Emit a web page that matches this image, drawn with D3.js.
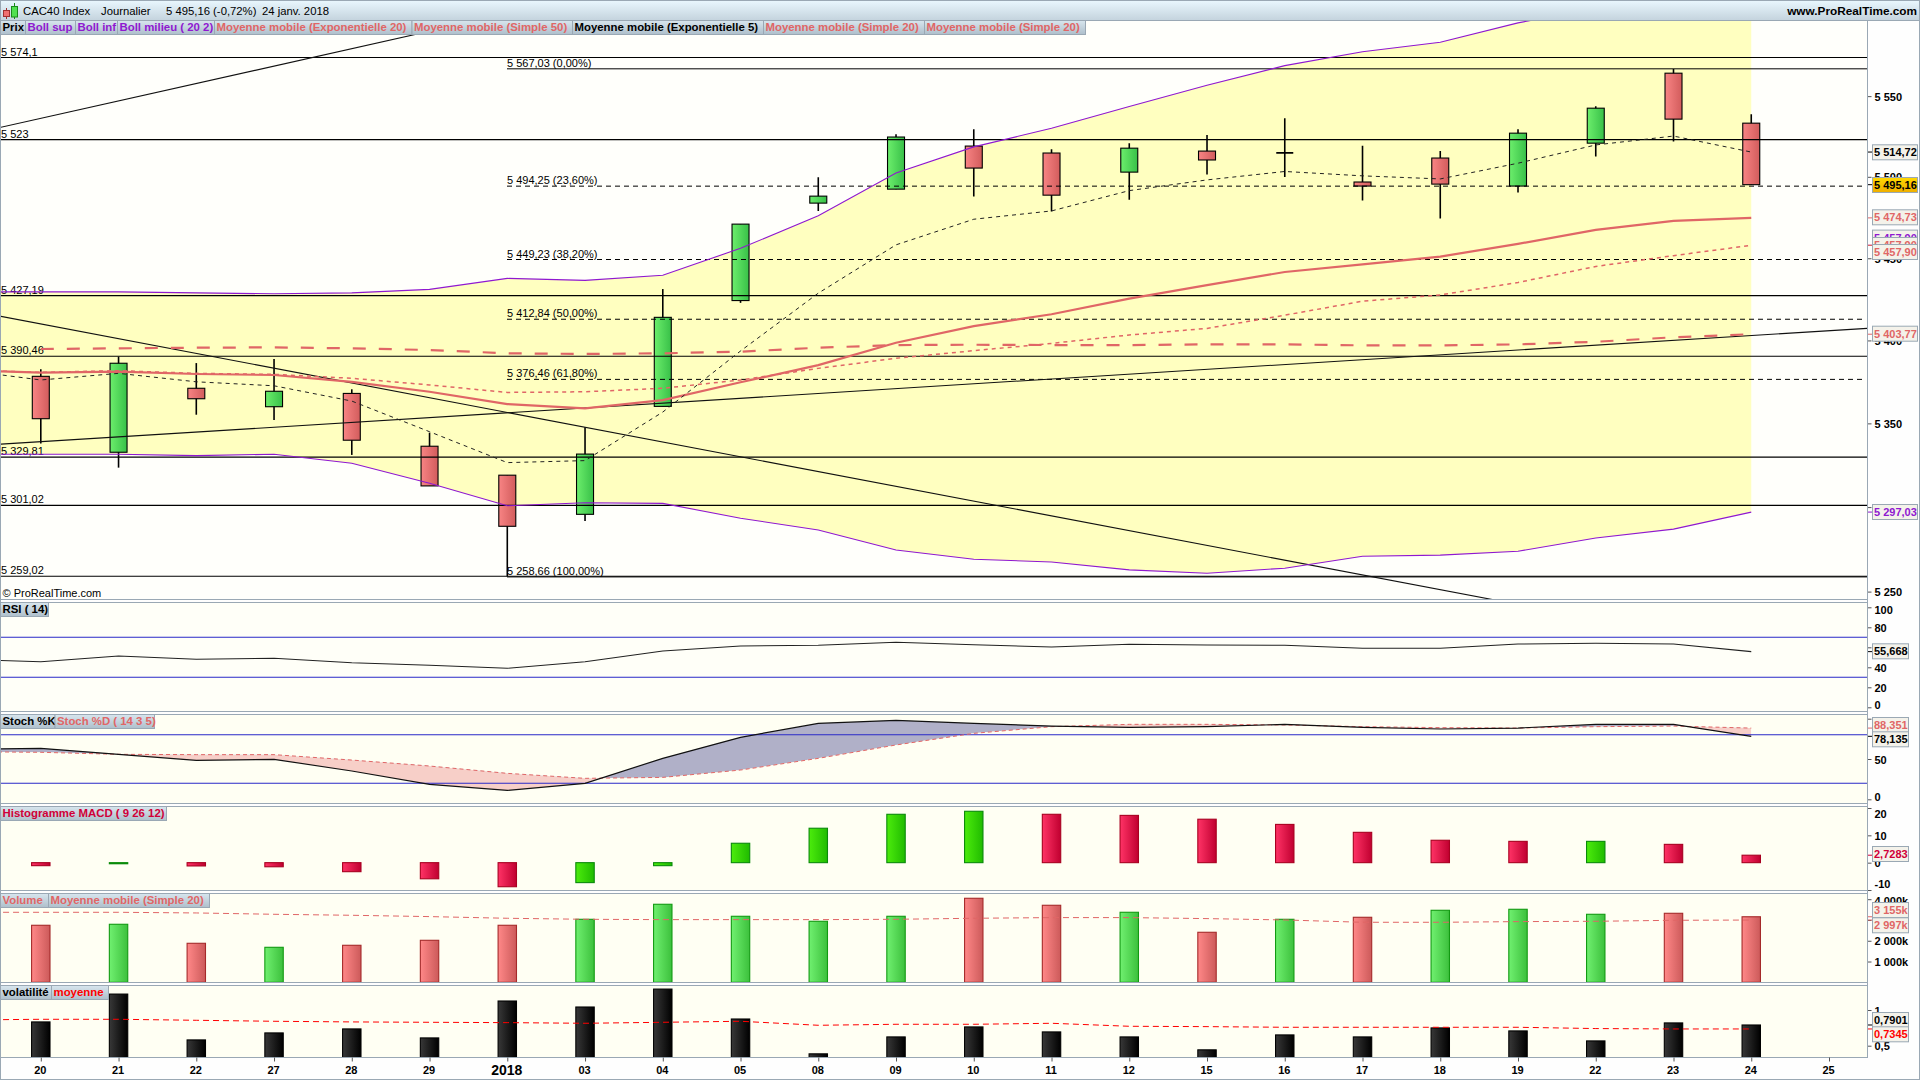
<!DOCTYPE html>
<html>
<head>
<meta charset="utf-8">
<script src="https://d3js.org/d3.v7.min.js"></script>
<style>
  body { margin: 0; background: #fff; }
  svg { display: block; }
  text { font-family: "Liberation Sans", Arial, sans-serif; font-size: 11px; fill: #000; }
  .bold { font-weight: bold; }
</style>
</head>
<body>
<svg id="chart" width="1920" height="1080"></svg>
<script>
// x axis labels, 25 is the empty day after the last candle
const categories = ["20", "21", "22", "27", "28", "29", "2018", "03", "04", "05", "08", "09", "10", "11", "12", "15", "16", "17", "18", "19", "22", "23", "24", "25"];

// candles
const opens = [5378.3, 5332.7, 5371.1, 5360, 5368, 5336.3, 5319, 5295.7, 5360.2, 5424.2, 5483.8, 5492.4, 5519, 5514.7, 5502.9, 5515.9, 5514.1, 5496.8, 5511.6, 5494.3, 5520.8, 5564.3, 5533.2];
const closes = [5352.8, 5386.2, 5364.8, 5369.3, 5339.9, 5312.6, 5288.6, 5331.6, 5414, 5470.9, 5488.1, 5524.6, 5505.4, 5488.7, 5517.7, 5510.4, 5514.8, 5494.3, 5495.5, 5527, 5542.5, 5535.7, 5495.16];
const highs = [5382.5, 5390.2, 5386.3, 5388.8, 5370.5, 5344.4, 5319, 5347.7, 5431.2, 5470.9, 5499.8, 5526.4, 5529.5, 5517.1, 5520.8, 5525.8, 5536.3, 5519.2, 5515.9, 5529.5, 5543.7, 5566.9, 5538.8];
const lows = [5337.9, 5323.5, 5355.2, 5352, 5331.1, 5312.6, 5259, 5291.8, 5360.2, 5422.8, 5479, 5492.4, 5487.8, 5478.6, 5485.8, 5501.4, 5499.9, 5485.4, 5474.3, 5490.3, 5512.6, 5521.8, 5495.16];

// indicators: first value is the day before the first candle (off the left edge)
const bollUp = [5429.5, 5429.5, 5429.5, 5428.9, 5428.3, 5428.9, 5431, 5437.7, 5436.5, 5439.6, 5456.1, 5476, 5502.3, 5518.5, 5530, 5543.5, 5556.8, 5569, 5577.7, 5583.6, 5595.8, 5605, 5613, 5618.8];
const bollDown = [5331.5, 5331.5, 5331.5, 5330.7, 5331.5, 5326.1, 5314.2, 5300.8, 5302.6, 5302.2, 5293.4, 5286.4, 5274.6, 5269.1, 5267.5, 5262.8, 5260.8, 5263.8, 5270.9, 5271.5, 5273.8, 5281.7, 5286.9, 5297.03];
const ema20 = [5382.1, 5380.5, 5381.1, 5379.7, 5379.1, 5375, 5369, 5361.6, 5359, 5364, 5374.7, 5385.1, 5398.6, 5408.7, 5415.9, 5425.4, 5433.6, 5441.6, 5446.3, 5451, 5458.8, 5467.4, 5472.9, 5474.73];
const sma50 = [null, 5394.8, 5395.2, 5395.6, 5395.8, 5395.2, 5394.2, 5392.2, 5391.8, 5392.2, 5393.2, 5395.6, 5397.2, 5397.4, 5397.2, 5397.2, 5397.6, 5397.6, 5397, 5397, 5397.6, 5399.2, 5401.9, 5403.77];
const sma20 = [5382.1, 5380.7, 5381.7, 5380.1, 5379.5, 5377.1, 5373.1, 5368.6, 5369, 5371.1, 5376.1, 5383.1, 5389.2, 5393.8, 5398.2, 5403.3, 5407.3, 5415.3, 5423.8, 5427.6, 5435.2, 5445, 5451.6, 5457.9];
const ema5 = [5382.1, 5376.1, 5380.1, 5375, 5372.6, 5363.4, 5345, 5326.5, 5327.7, 5356.8, 5393.6, 5428.7, 5458.2, 5473.9, 5479, 5491.5, 5498.1, 5503.3, 5500.6, 5498.7, 5508.4, 5519.7, 5525.2, 5515.3];

// levels drawn by hand on the chart
const supports = [5574.1, 5523, 5427.19, 5390.46, 5329.81, 5301.02, 5259.02];
const supportLabels = ["5 574,1", "5 523", "5 427,19", "5 390,46", "5 329,81", "5 301,02", "5 259,02"];
const fiboValues = [5567.03, 5494.25, 5449.23, 5412.84, 5376.46, 5258.66];
const fiboLabels = ["5 567,03 (0,00%)", "5 494,25 (23,60%)", "5 449,23 (38,20%)", "5 412,84 (50,00%)", "5 376,46 (61,80%)", "5 258,66 (100,00%)"];
const fiboDashed = [false, true, true, true, true, false];
// trend lines: [start index, start price, end index, end price]
const trendLines = [
  [-0.525, 5530.5, 5.5, 5596],
  [-0.525, 5414.7, 19.03, 5242.2],
  [-0.525, 5337.5, 23.49, 5407.3]
];

const rsi = [48, 45.6, 51.3, 48, 49, 44.6, 42, 39, 45.6, 56.3, 61.3, 62, 65, 62.6, 60.3, 63, 62.3, 62, 59, 59, 63.3, 64, 63.3, 55.668];
const stochK = [62, 63.2, 55.8, 48.3, 49.6, 35.1, 18.6, 11.1, 19.8, 50.8, 76.9, 94.2, 98, 94.2, 90.9, 89.3, 90.1, 93, 89.3, 87.2, 88.4, 93, 93, 78.135];
const stochD = [59.1, 58.3, 55.8, 55.4, 55.4, 48.7, 41.3, 32.2, 26, 27.2, 36.3, 50.8, 67.4, 81.8, 90.1, 93, 93, 92.2, 90.1, 88.9, 88.4, 90.1, 90.9, 88.351];

const macd = [-1.1, -0.4, -1.2, -1.5, -3.3, -5.9, -8.8, -7.3, -1.1, 7.1, 12.6, 17.7, 18.8, 17.7, 17.3, 15.9, 14, 11.1, 8.2, 7.8, 7.8, 6.7, 2.7283];
const macdDir = ["d", "u", "d", "d", "d", "d", "d", "u", "u", "u", "u", "u", "u", "d", "d", "d", "d", "d", "d", "d", "u", "d", "d"];

const volume = [2745, 2793, 1878, 1685, 1782, 2022, 2745, 3033, 3756, 3178, 2937, 3178, 4045, 3708, 3371, 2408, 3033, 3130, 3467, 3515, 3274, 3322, 3155];
const volumeDir = ["d", "u", "d", "u", "d", "d", "d", "u", "u", "u", "u", "u", "d", "d", "u", "d", "u", "d", "u", "u", "u", "d", "d"];
const volumeAvg = [3370, 3370, 3370, 3338, 3274, 3226, 3162, 3082, 3033, 3017, 3017, 3017, 3033, 3082, 3114, 3114, 3066, 3001, 2889, 2889, 2921, 2937, 2985, 2997];

const volat = [0.833, 1.223, 0.581, 0.679, 0.735, 0.609, 1.126, 1.042, 1.293, 0.874, 0.386, 0.623, 0.763, 0.693, 0.623, 0.442, 0.651, 0.623, 0.749, 0.707, 0.567, 0.819, 0.7901];
const volatAvg = [0.86, 0.87, 0.87, 0.856, 0.842, 0.833, 0.828, 0.823, 0.814, 0.828, 0.842, 0.786, 0.8, 0.8, 0.814, 0.772, 0.767, 0.758, 0.758, 0.758, 0.758, 0.74, 0.7345, 0.7345];

const priceTicks = [5550, 5500, 5450, 5400, 5350, 5300, 5250];
const rsiTicks = [100, 80, 60, 40, 20, 0];
const stochTicks = [100, 50, 0];
const macdTicks = [20, 10, 0, -10];
const volumeTicks = [4000, 3000, 2000, 1000];
const volatTicks = [1, 0.5];

const AXIS_X = 1867.5;
const BORDER = "#9aa8b4";
const PINK = "#e06666";
const PURPLE = "#8f18d0";
const CRIMSON = "#d00038";

const svg = d3.select("#chart");
const defs = svg.append("defs");

// left-to-right gradients for bars and candles
function addGradient(id, from, to, vertical) {
  let g = defs.append("linearGradient").attr("id", id)
    .attr("x1", 0).attr("y1", 0)
    .attr("x2", vertical ? 0 : 1).attr("y2", vertical ? 1 : 0);
  g.append("stop").attr("offset", 0).attr("stop-color", from);
  g.append("stop").attr("offset", 1).attr("stop-color", to);
}
addGradient("candleRed", "#f88484", "#d25c5c");
addGradient("candleGreen", "#6cee6c", "#38c048");
addGradient("macdRed", "#ff3366", "#c00030");
addGradient("macdGreen", "#4cec0c", "#20bb00");
addGradient("volRed", "#ff8888", "#cc5a5a");
addGradient("volGreen", "#70f070", "#3cc03c");
addGradient("black", "#383838", "#000000");
addGradient("header", "#e8f6fd", "#c4d3dd", true);
addGradient("tab", "#d8e6ee", "#aebfcb", true);
addGradient("current", "#ffd800", "#efae00", true);

const x = d3.scaleLinear().domain([0, 23]).range([40.8, 1829]);

// panels: top and bottom edges
const panels = {
  price: {top: 20.5, bottom: 599.5, fill: "#fffffb"},
  rsi: {top: 602.5, bottom: 711.5, fill: "#fffff8"},
  stoch: {top: 714.5, bottom: 803.5, fill: "#fffff3"},
  macd: {top: 806.5, bottom: 890.5, fill: "#fffff3"},
  vol: {top: 893.5, bottom: 982.5, fill: "#fffff3"},
  volat: {top: 985.5, bottom: 1057.5, fill: "#fffff3"}
};

// the price axis is logarithmic
const yPrice = d3.scaleLog().domain([5259.02, 5574.1]).range([576.3, 57.5]);
const yRsi = d3.scaleLinear().domain([0, 100]).range([707.3, 607.3]);
const yStoch = d3.scaleLinear().domain([0, 100]).range([799.3, 718.7]);
const yMacd = d3.scaleLinear().domain([-10, 20]).range([890, 808]);
const yVolume = d3.scaleLinear().domain([0, 4000]).range([982.3, 899.2]);
const yVolat = d3.scaleLinear().domain([0.5, 1]).range([1045.7, 1010]);

svg.append("rect").attr("width", 1920).attr("height", 1080).attr("fill", "#fefefe");

Object.keys(panels).forEach(function(key) {
  let p = panels[key];
  svg.append("rect")
    .attr("x", 0.5).attr("y", p.top)
    .attr("width", AXIS_X - 0.5).attr("height", p.bottom - p.top)
    .attr("fill", p.fill)
    .attr("stroke", BORDER);
  defs.append("clipPath").attr("id", "clip-" + key)
    .append("rect")
    .attr("x", 1).attr("y", p.top + 0.5)
    .attr("width", AXIS_X - 1).attr("height", p.bottom - p.top - 1);
});

function panelGroup(key) {
  return svg.append("g").attr("clip-path", "url(#clip-" + key + ")");
}

function seriesLine(yScale) {
  return d3.line()
    .defined(function(d) { return d != null; })
    .x(function(d, i) { return x(i - 1); })
    .y(function(d) { return yScale(d); });
}

function drawLine(g, values, yScale, color, width, dash) {
  g.append("path")
    .datum(values)
    .attr("d", seriesLine(yScale))
    .attr("fill", "none")
    .attr("stroke", color)
    .attr("stroke-width", width)
    .attr("stroke-dasharray", dash || null);
}

/* ------- price panel ------- */
const priceG = panelGroup("price");

priceG.append("path")
  .datum(d3.range(bollUp.length))
  .attr("d", d3.area()
    .x(function(i) { return x(i - 1); })
    .y0(function(i) { return yPrice(bollDown[i]); })
    .y1(function(i) { return yPrice(bollUp[i]); }))
  .attr("fill", "#ffffc0");

// candles
const candle = priceG.selectAll(".candle")
  .data(opens.map(function(o, i) { return {i: i, o: o, c: closes[i], h: highs[i], l: lows[i]}; }))
  .enter().append("g").attr("class", "candle");

candle.append("line")
  .attr("x1", function(d) { return x(d.i); })
  .attr("x2", function(d) { return x(d.i); })
  .attr("y1", function(d) { return yPrice(d.h); })
  .attr("y2", function(d) { return yPrice(d.l); })
  .attr("stroke", "#000")
  .attr("stroke-width", 1.6);

// open and close nearly equal: a black cross, no body
candle.filter(function(d) { return Math.abs(d.o - d.c) < 1; })
  .append("line")
  .attr("x1", function(d) { return x(d.i) - 8.5; })
  .attr("x2", function(d) { return x(d.i) + 8.5; })
  .attr("y1", function(d) { return yPrice(d.c); })
  .attr("y2", function(d) { return yPrice(d.c); })
  .attr("stroke", "#000")
  .attr("stroke-width", 1.6);

candle.filter(function(d) { return Math.abs(d.o - d.c) >= 1; })
  .append("rect")
  .attr("x", function(d) { return x(d.i) - 8.5; })
  .attr("width", 17)
  .attr("y", function(d) { return yPrice(Math.max(d.o, d.c)); })
  .attr("height", function(d) { return yPrice(Math.min(d.o, d.c)) - yPrice(Math.max(d.o, d.c)); })
  .attr("fill", function(d) { return d.c >= d.o ? "url(#candleGreen)" : "url(#candleRed)"; })
  .attr("stroke", "#000")
  .attr("stroke-width", 1.1);

// horizontal levels
supports.forEach(function(v, i) {
  priceG.append("line")
    .attr("x1", 0).attr("x2", AXIS_X)
    .attr("y1", yPrice(v)).attr("y2", yPrice(v))
    .attr("stroke", "#000").attr("stroke-width", 1.1);
  priceG.append("text")
    .attr("x", 1).attr("y", yPrice(v) - 2)
    .text(supportLabels[i]);
});

fiboValues.forEach(function(v, i) {
  priceG.append("line")
    .attr("x1", 507).attr("x2", AXIS_X - (fiboDashed[i] ? 4 : 0))
    .attr("y1", yPrice(v)).attr("y2", yPrice(v))
    .attr("stroke", "#000").attr("stroke-width", 1)
    .attr("stroke-dasharray", fiboDashed[i] ? "5,4" : null);
  priceG.append("text")
    .attr("x", 507).attr("y", yPrice(v) - 2)
    .text(fiboLabels[i]);
});

trendLines.forEach(function(t) {
  priceG.append("line")
    .attr("x1", x(t[0])).attr("y1", yPrice(t[1]))
    .attr("x2", x(t[2])).attr("y2", yPrice(t[3]))
    .attr("stroke", "#111").attr("stroke-width", 1.1);
});

drawLine(priceG, bollUp, yPrice, PURPLE, 1.1);
drawLine(priceG, bollDown, yPrice, PURPLE, 1.1);
drawLine(priceG, sma50, yPrice, PINK, 2.2, "13,13");
drawLine(priceG, sma20, yPrice, PINK, 1.5, "4,4");
drawLine(priceG, ema20, yPrice, PINK, 2.2);
drawLine(priceG, ema5, yPrice, "#222", 1, "4,4");

priceG.append("text").attr("x", 2.5).attr("y", 597).text("\u00a9 ProRealTime.com");

/* ------- RSI ------- */
const rsiG = panelGroup("rsi");
[70, 30].forEach(function(v) {
  rsiG.append("line")
    .attr("x1", 0).attr("x2", AXIS_X)
    .attr("y1", yRsi(v)).attr("y2", yRsi(v))
    .attr("stroke", "#2a2ac8").attr("stroke-width", 1.1);
});
drawLine(rsiG, rsi, yRsi, "#222", 1.1);

/* ------- Stochastic ------- */
const stochG = panelGroup("stoch");
const stochIdx = d3.range(stochK.length);

// the area between %K and %D, cut along %D to get the two colours
const stochArea = d3.area()
  .x(function(i) { return x(i - 1); })
  .y0(function(i) { return yStoch(stochD[i]); })
  .y1(function(i) { return yStoch(stochK[i]); });

defs.append("clipPath").attr("id", "above-d").append("path")
  .attr("d", d3.area().x(function(i) { return x(i - 1); })
    .y0(function(i) { return yStoch(stochD[i]); }).y1(panels.stoch.top)(stochIdx));
defs.append("clipPath").attr("id", "below-d").append("path")
  .attr("d", d3.area().x(function(i) { return x(i - 1); })
    .y0(function(i) { return yStoch(stochD[i]); }).y1(panels.stoch.bottom)(stochIdx));

stochG.append("path").attr("d", stochArea(stochIdx)).attr("fill", "#b0b0c8").attr("clip-path", "url(#above-d)");
stochG.append("path").attr("d", stochArea(stochIdx)).attr("fill", "#f7cfc8").attr("clip-path", "url(#below-d)");

[80, 20].forEach(function(v) {
  stochG.append("line")
    .attr("x1", 0).attr("x2", AXIS_X)
    .attr("y1", yStoch(v)).attr("y2", yStoch(v))
    .attr("stroke", "#2a2ac8").attr("stroke-width", 1.1);
});
drawLine(stochG, stochD, yStoch, PINK, 1, "4,3");
drawLine(stochG, stochK, yStoch, "#111", 1.2);

/* ------- bars for MACD, volume, volatility ------- */
function drawBars(g, values, yScale, base, fill, stroke) {
  g.selectAll(".bar")
    .data(values)
    .enter().append("rect")
    .attr("class", "bar")
    .attr("x", function(d, i) { return x(i) - 9.2; })
    .attr("width", 18.4)
    .attr("y", function(d) { return Math.min(yScale(d), base); })
    .attr("height", function(d) { return Math.abs(yScale(d) - base); })
    .attr("fill", fill)
    .attr("stroke", stroke)
    .attr("stroke-width", 1.1);
}

const macdG = panelGroup("macd");
drawBars(macdG, macd, yMacd, yMacd(0),
  function(d, i) { return macdDir[i] == "u" ? "url(#macdGreen)" : "url(#macdRed)"; },
  function(d, i) { return macdDir[i] == "u" ? "#0a8a0a" : "#a80020"; });

const volG = panelGroup("vol");
drawBars(volG, volume, yVolume, yVolume(0),
  function(d, i) { return volumeDir[i] == "u" ? "url(#volGreen)" : "url(#volRed)"; },
  function(d, i) { return volumeDir[i] == "u" ? "#129a12" : "#a52a2a"; });
drawLine(volG, volumeAvg, yVolume, PINK, 1, "6,4");

const volatG = panelGroup("volat");
drawBars(volatG, volat, yVolat, panels.volat.bottom, "url(#black)", "#000");
drawLine(volatG, volatAvg, yVolat, "#ff0000", 1, "6,4");

/* ------- right axes ------- */
function rightAxis(key, yScale, ticks, format) {
  let p = panels[key];
  let g = svg.append("g")
    .attr("transform", "translate(" + AXIS_X + ",0)")
    .call(d3.axisRight(yScale).tickValues(ticks).tickSize(4).tickPadding(3).tickFormat(format));
  g.select(".domain").remove();
  g.selectAll("line").attr("stroke", "#555");
  // labels stay inside their panel even when the tick is at the edge
  g.selectAll("text")
    .attr("class", "bold")
    .attr("dy", null)
    .attr("dominant-baseline", "central")
    .attr("y", function(d) {
      let py = yScale(d);
      let clamped = Math.min(Math.max(py, p.top + 7), p.bottom - 7);
      return clamped - py;
    });
}

const spaced = function(d) { return d3.format(",")(d).replace(",", " "); };
rightAxis("price", yPrice, priceTicks, spaced);
rightAxis("rsi", yRsi, rsiTicks, function(d) { return d; });
rightAxis("stoch", yStoch, stochTicks, function(d) { return d; });
rightAxis("macd", yMacd, macdTicks, function(d) { return d; });
rightAxis("vol", yVolume, volumeTicks, function(d) { return spaced(d) + "k"; });
rightAxis("volat", yVolat, volatTicks, function(d) { return String(d).replace(".", ","); });

// value boxes on the axis; tickY is the true position, boxY can be pushed away
function valueBox(label, tickY, boxY, color, boxWidth, fill) {
  svg.append("line")
    .attr("x1", AXIS_X).attr("x2", AXIS_X + 5)
    .attr("y1", tickY).attr("y2", tickY)
    .attr("stroke", color);
  svg.append("rect")
    .attr("x", 1872.5).attr("y", boxY - 7.5)
    .attr("width", boxWidth).attr("height", 15)
    .attr("fill", fill || "#f4f2ea")
    .attr("stroke", BORDER);
  svg.append("text")
    .attr("class", "bold")
    .attr("x", 1874).attr("y", boxY)
    .attr("dominant-baseline", "central")
    .style("fill", color)
    .text(label);
}

valueBox("5 514,72", yPrice(5515.3), 152.3, "#000", 45);
valueBox("5 495,16", yPrice(5495.16), 185, "#000", 45, "url(#current)");
valueBox("5 474,73", yPrice(5474.73), 217.3, PINK, 45);
valueBox("5 457,90", yPrice(5457.9), 237.6, PURPLE, 45);
valueBox("5 457,90", yPrice(5457.9), 245, PINK, 45);
valueBox("5 457,90", yPrice(5457.9), 252, PINK, 45);
valueBox("5 403,77", yPrice(5403.77), 333.7, PINK, 45);
valueBox("5 297,03", yPrice(5297.03), 512, PURPLE, 45);
valueBox("55,668", yRsi(55.668), 651.3, "#000", 36);
valueBox("88,351", yStoch(88.351), 725, PINK, 36);
valueBox("78,135", yStoch(78.135), 739.3, "#000", 36);
valueBox("2,7283", yMacd(2.7283), 854, CRIMSON, 36);
valueBox("3 155k", yVolume(3155), 910, PINK, 36);
valueBox("2 997k", yVolume(2997), 925.3, PINK, 36);
valueBox("0,7901", yVolat(0.7901), 1020, "#000", 36);
valueBox("0,7345", yVolat(0.7345), 1034.3, "#ff0000", 36);

/* ------- x axis ------- */
const xAxis = svg.append("g")
  .attr("transform", "translate(0," + panels.volat.bottom + ")")
  .call(d3.axisBottom(x)
    .tickValues(d3.range(categories.length))
    .tickSize(4)
    .tickPadding(3)
    .tickFormat(function(i) { return categories[i]; }));
xAxis.select(".domain").remove();
xAxis.selectAll("line").attr("stroke", "#555");
xAxis.selectAll("text")
  .attr("class", "bold")
  .attr("dy", null)
  .attr("y", 12.5)
  .attr("dominant-baseline", "central")
  .attr("dx", -1)
  .style("font-size", function(i) { return categories[i] == "2018" ? "14px" : "11px"; });

/* ------- frame, header, tabs ------- */
svg.append("line").attr("x1", AXIS_X).attr("x2", AXIS_X).attr("y1", 20).attr("y2", 1057.5).attr("stroke", BORDER);
svg.append("rect").attr("x", 0.5).attr("y", 0.5).attr("width", 1919).attr("height", 1079)
  .attr("fill", "none").attr("stroke", BORDER);

svg.append("rect").attr("x", 1).attr("y", 1).attr("width", 1918).attr("height", 19.5)
  .attr("fill", "url(#header)");
svg.append("line").attr("x1", 0).attr("x2", 1920).attr("y1", 20.5).attr("y2", 20.5).attr("stroke", BORDER);

// small candle icon in the header
svg.append("line").attr("x1", 6.5).attr("x2", 6.5).attr("y1", 8).attr("y2", 19).attr("stroke", "#a03030");
svg.append("rect").attr("x", 3.5).attr("y", 10.5).attr("width", 6).attr("height", 6).attr("fill", "#f07070").attr("stroke", "#a03030");
svg.append("line").attr("x1", 14.5).attr("x2", 14.5).attr("y1", 3).attr("y2", 19).attr("stroke", "#1a8a1a");
svg.append("rect").attr("x", 11.5).attr("y", 6.5).attr("width", 6).attr("height", 10.5).attr("fill", "#50e050").attr("stroke", "#1a8a1a");

[["CAC40 Index", 23], ["Journalier", 101], ["5 495,16 (-0,72%)", 166], ["24 janv. 2018", 262]].forEach(function(h) {
  svg.append("text").attr("x", h[1]).attr("y", 11).attr("dominant-baseline", "central")
    .style("font-size", "11.3px").text(h[0]);
});
svg.append("text").attr("class", "bold").attr("x", 1917).attr("y", 11).attr("dominant-baseline", "central")
  .attr("text-anchor", "end").style("font-size", "11.8px").text("www.ProRealTime.com");

// legend tabs: label, colour, right edge
function tabs(top, items) {
  let left = 0.5;
  items.forEach(function(t) {
    svg.append("rect")
      .attr("x", left).attr("y", top)
      .attr("width", t[2] - left).attr("height", 14)
      .attr("fill", "url(#tab)").attr("stroke", BORDER);
    svg.append("text")
      .attr("class", "bold")
      .attr("x", left + 2).attr("y", top + 6.5)
      .attr("dominant-baseline", "central")
      .style("font-size", "11.4px")
      .style("fill", t[1])
      .text(t[0]);
    left = t[2];
  });
}

tabs(20.5, [
  ["Prix", "#000", 25.5],
  ["Boll sup", PURPLE, 75.5],
  ["Boll inf", PURPLE, 117.5],
  ["Boll milieu ( 20 2)", PURPLE, 214.5],
  ["Moyenne mobile (Exponentielle 20)", PINK, 412],
  ["Moyenne mobile (Simple 50)", PINK, 572.5],
  ["Moyenne mobile (Exponentielle 5)", "#000", 763.5],
  ["Moyenne mobile (Simple 20)", PINK, 924.5],
  ["Moyenne mobile (Simple 20)", PINK, 1085.5]
]);
tabs(602.5, [["RSI ( 14)", "#000", 48.5]]);
tabs(714.5, [["Stoch %K", "#000", 55], ["Stoch %D ( 14 3 5)", PINK, 154.5]]);
tabs(806.5, [["Histogramme MACD ( 9 26 12)", CRIMSON, 166.5]]);
tabs(893.5, [["Volume", PINK, 48.5], ["Moyenne mobile (Simple 20)", PINK, 209.5]]);
tabs(985.5, [["volatilit\u00e9", "#000", 51.5], ["moyenne", "#ff0000", 108.5]]);
</script>
</body>
</html>
